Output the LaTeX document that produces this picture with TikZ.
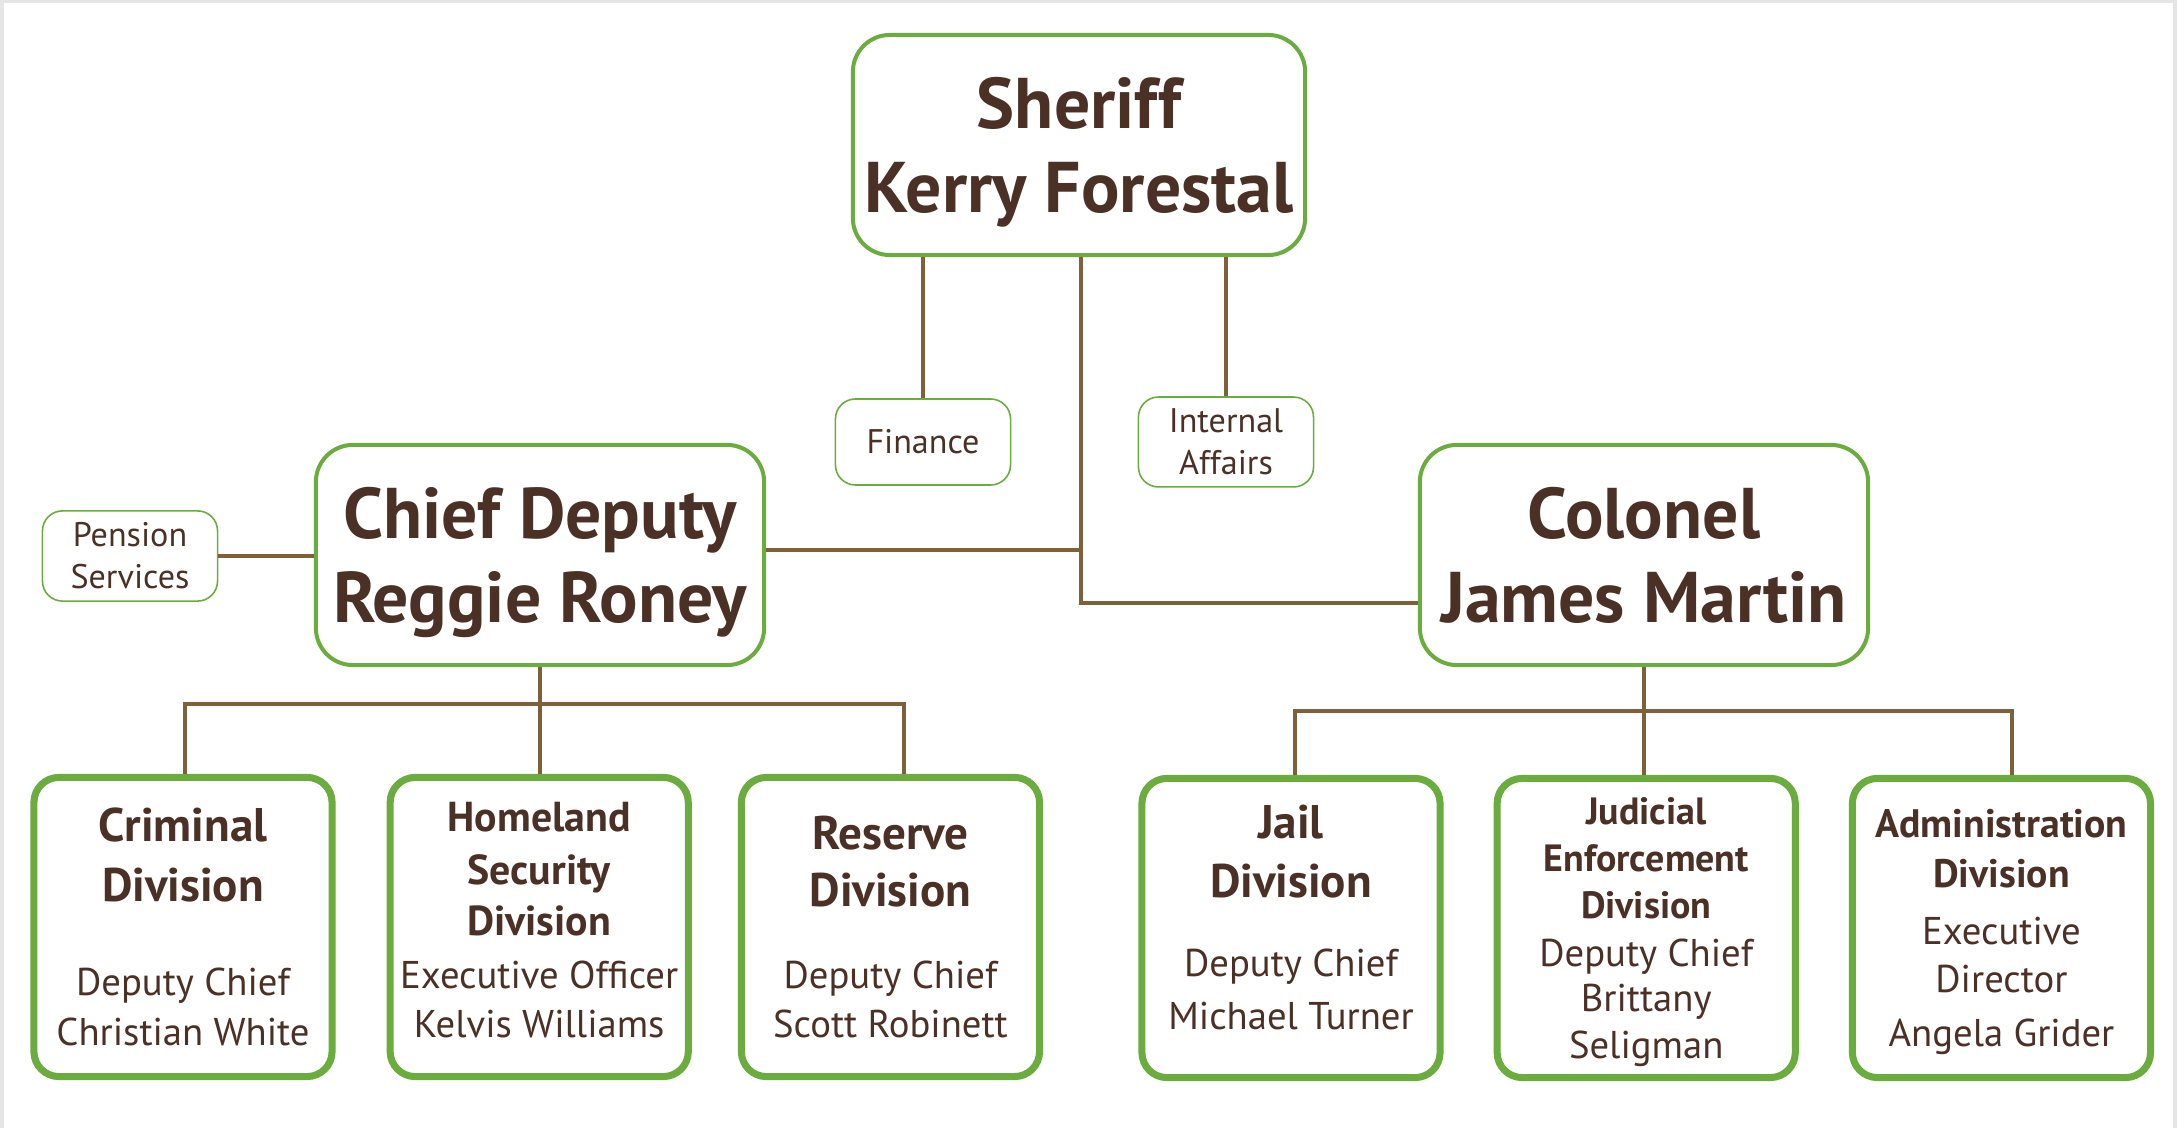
\documentclass[tikz,border=0pt]{standalone}
\usepackage{fontspec}
\setmainfont{PT Sans}
\usetikzlibrary{positioning}

\definecolor{boxgreen}{RGB}{106,172,62}
\definecolor{linebrown}{RGB}{126,97,58}
\definecolor{txtbrown}{RGB}{75,48,38}
\definecolor{framegray}{RGB}{229,229,229}

\newcommand{\hdL}{\bfseries\fontsize{13.4}{14}\selectfont}
\newcommand{\hdM}{\bfseries\fontsize{11.9}{14}\selectfont}
\newcommand{\hdS}{\bfseries\fontsize{11.3}{14}\selectfont}
\newcommand{\hdXS}{\bfseries\fontsize{10.8}{14}\selectfont}
\newcommand{\bdy}{\normalfont\fontsize{11}{14}\selectfont}

\begin{document}
\begin{tikzpicture}[x=0.01cm, y=-0.01cm, node distance=0.5cm,
    topbox/.style={draw=boxgreen, line width=1.14pt, rounded corners=0.37cm, fill=white,
      text=txtbrown, align=center, minimum width=4.48cm, minimum height=2.2cm,
      text depth=0pt, font=\bfseries\fontsize{20.4}{23.8}\selectfont},
    sidebox/.style={draw=boxgreen, line width=0.45pt, rounded corners=0.2cm, fill=white,
      text=txtbrown, align=center, minimum width=1.75cm, minimum height=0.86cm,
      font=\fontsize{9.7}{12}\selectfont},
    divbox/.style={draw=boxgreen, line width=2pt, rounded corners=0.25cm, fill=white,
      text=txtbrown, align=center, minimum width=2.98cm, minimum height=2.99cm,
      inner sep=0pt, font=\fontsize{11}{14}\selectfont},
    link/.style={draw=linebrown, line width=1.2pt}]

    % Rahmen
    \useasboundingbox (0,0) rectangle (2177,1128);
    \fill[framegray] (0,0) rectangle (2177,1128);
    \fill[white] (4,3) rectangle (2173,1128);

    % Leitung
    \node[topbox] (sheriff) at (1079,145) {Sheriff\\Kerry Forestal};
    \node[sidebox] (finance) at (923,442) {Finance};
    \node[sidebox] (internal) at (1226,442) {Internal\\Affairs};
    \node[topbox] (chief) at (540,555) {Chief Deputy\\Reggie Roney};
    \node[topbox] (colonel) at (1644,555) {Colonel\\James Martin};
    \node[sidebox] (pension) at (130,556) {Pension\\Services};

    % Divisionen
    \node[divbox] (criminal) at (183,927)
      {\hdL Criminal\\[2.8pt]\hdL Division\\[13pt]\bdy Deputy Chief\\\bdy Christian White};
    \node[divbox, right=0.51cm of criminal, text depth=4pt] (homeland)
      {\hdM Homeland\\[1pt]\hdM Security\\[0.5pt]\hdM Division\\[1pt]\bdy Executive Officer\\\bdy Kelvis Williams};
    \node[divbox, right=0.46cm of homeland] (reserve)
      {\hdL Reserve\\[2.2pt]\hdL Division\\[9.3pt]\bdy Deputy Chief\\\bdy Scott Robinett};
    \node[divbox, text depth=6pt] (jail) at (1291,928)
      {\hdL Jail\\[2.8pt]\hdL Division\\[8.5pt]\bdy Deputy Chief\\[1pt]\bdy Michael Turner};
    \node[divbox, right=of jail, text depth=-2.4pt] (judicial)
      {\hdXS Judicial\\[-0.8pt]\hdXS Enforcement\\[-0.6pt]\hdXS Division\\[-0.3pt]\bdy Deputy Chief\\[-1.2pt]\bdy Brittany\\[-0.8pt]\bdy Seligman};
    \node[divbox, right=of judicial, text depth=-1.6pt] (admin)
      {\hdS Administration\\\hdS Division\\[2.2pt]\bdy Executive\\[-0.3pt]\bdy Director\\[1.4pt]\bdy Angela Grider};

    % Linien
    \coordinate (trunk) at (1081,603);
    \coordinate (cdjoin) at (1081,550);
    \coordinate (lbusL) at (185,704);
    \coordinate (lbusR) at (904,704);
    \coordinate (rbusL) at (1295,711);
    \coordinate (rbusR) at (2012,711);

    \draw[link] (finance.north) -- (finance.north |- sheriff.south);
    \draw[link] (internal.north) -- (internal.north |- sheriff.south);
    \draw[link] (sheriff.south -| trunk) -- (trunk) -- (trunk -| colonel.west);
    \draw[link] (cdjoin) -- (cdjoin -| chief.east);
    \draw[link] (pension.east) -- (pension.east -| chief.west);
    \draw[link] (chief.south) -- (chief.south |- homeland.north);
    \draw[link] (lbusL |- criminal.north) -- (lbusL) -- (lbusR) -- (lbusR |- reserve.north);
    \draw[link] (colonel.south) -- (colonel.south |- judicial.north);
    \draw[link] (rbusL |- jail.north) -- (rbusL) -- (rbusR) -- (rbusR |- admin.north);

\end{tikzpicture}
\end{document}
